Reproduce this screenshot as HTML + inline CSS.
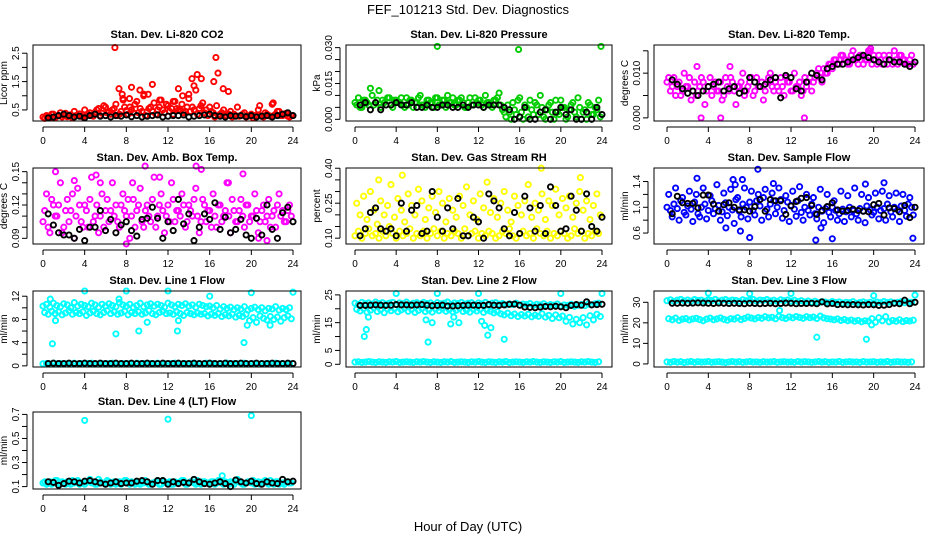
<!DOCTYPE html>
<html><head><meta charset="utf-8"><style>
html,body{margin:0;padding:0;background:#fff;}
svg{display:block;font-family:"Liberation Sans",Arial,sans-serif;}
</style></head><body>
<svg id="chart" width="936" height="540" viewBox="0 0 936 540" xmlns="http://www.w3.org/2000/svg">
<rect width="936" height="540" fill="#fff"/>
<text x="468" y="14" text-anchor="middle" font-size="13">FEF_101213  Std. Dev. Diagnostics</text>
<text x="468" y="531" text-anchor="middle" font-size="13">Hour of Day (UTC)</text>
</svg>
<script>
// ---- data (hours of day, estimated std dev values) ----
const xTickLabels = [0,4,8,12,16,20,24];
const co2Red1 = [0.25,0.3,0.22,0.35,0.28,0.4,0.3,0.26,0.33,0.45,0.3,0.28,0.5,0.35,0.3,0.42,0.55,0.38,0.6,0.45,0.5,0.7,0.35,0.9,0.48,0.6,0.4,0.8,0.55,1.0,0.45,0.6,0.75,0.5,0.85,0.4,0.65,0.55,0.8,0.5,0.7,0.45,0.9,0.6,1.2,0.55,0.75,0.5,0.6,0.4,0.65,0.35,0.5,0.3,0.45,0.35,0.6,0.3,0.4,0.28,0.35,0.3,0.5,0.28,0.4,0.3,0.7,0.35,0.45,0.3,0.38,0.25];
const co2Red2 = [0.2,0.28,0.35,0.22,0.3,0.25,0.38,0.3,0.22,0.3,0.36,0.25,0.32,0.4,0.28,0.5,0.3,0.65,0.4,0.35,0.55,0.3,0.45,0.6,0.35,0.5,0.7,0.4,0.45,0.3,0.55,0.45,0.35,0.6,0.5,0.7,0.45,0.35,0.55,0.5,0.4,0.6,0.45,0.5,0.35,0.65,0.4,0.3,0.45,0.25,0.3,0.4,0.28,0.35,0.25,0.3,0.28,0.35,0.25,0.3,0.22,0.28,0.3,0.25,0.35,0.28,0.3,0.45,0.3,0.35,0.28,0.3];
const co2OutX = [6.9,7.3,7.6,7.7,8.5,9.3,9.7,10.1,10.5,13.0,13.4,14.0,14.3,14.5,14.8,15.2,16.4,16.6,16.8,17.3,17.8,8.3,11.2,12.5,20.8,22.1];
const co2OutY = [2.7,1.25,1.05,0.85,1.3,1.2,1.05,1.05,1.4,1.25,1.0,1.05,1.6,1.35,1.75,1.6,1.5,2.35,1.8,1.25,1.15,0.9,0.85,0.8,0.65,0.75];
const co2Black = [0.22,0.25,0.3,0.35,0.3,0.25,0.28,0.22,0.3,0.35,0.28,0.3,0.25,0.3,0.28,0.32,0.26,0.3,0.25,0.28,0.3,0.32,0.25,0.28,0.3,0.3,0.32,0.25,0.28,0.3,0.32,0.35,0.3,0.28,0.25,0.3,0.28,0.3,0.26,0.3,0.25,0.28,0.3,0.25,0.3,0.35,0.4,0.3];

const presGreen1 = [.007,.009,.005,.008,.006,.010,.007,.012,.008,.006,.009,.005,.008,.007,.006,.009,.008,.005,.007,.010,.006,.008,.007,.005,.009,.006,.008,.010,.007,.006,.008,.009,.005,.007,.006,.009,.008,.006,.010,.007,.005,.008,.011,.004,.001,.003,.007,.002,.009,.000,.005,.008,.002,.006,.010,.001,.004,.007,.000,.003,.008,.005,.001,.006,.003,.009,.000,.004,.007,.002,.005,.008];
const presGreen2 = [.006,.005,.008,.007,.013,.006,.008,.005,.007,.009,.006,.008,.007,.009,.005,.006,.008,.007,.009,.006,.005,.008,.007,.009,.006,.008,.005,.007,.009,.006,.008,.007,.005,.009,.006,.007,.008,.005,.007,.006,.008,.009,.006,.003,.006,.000,.004,.008,.003,.006,.001,.004,.007,.002,.005,.000,.006,.003,.008,.002,.005,.000,.004,.007,.001,.005,.003,.000,.006,.002,.004,.001];
const presOutX = [8,15.9,23.9];
const presOutY = [.0305,.0292,.0305];
const presBlack = [.006,.007,.004,.007,.004,.006,.006,.007,.006,.006,.007,.005,.005,.006,.005,.005,.006,.006,.005,.005,.006,.005,.006,.006,.005,.006,.006,.006,.005,.004,.000,.001,.005,.000,.000,.003,.004,.000,.003,.005,.002,.004,.000,.000,.003,.000,.005,.002];

const tempMag1 = [.008,.006,.009,.007,.005,.010,.007,.004,.008,.006,.009,.003,.007,.005,.008,.006,.004,.009,.006,.008,.003,.007,.010,.006,.008,.005,.009,.007,.004,.008,.010,.006,.007,.009,.005,.008,.006,.010,.007,.005,.009,.008,.006,.009,.011,.008,.010,.012,.011,.013,.012,.014,.013,.012,.015,.013,.014,.012,.013,.015,.014,.012,.013,.014,.012,.013,.015,.012,.014,.013,.012,.014];
const tempMag2 = [.009,.007,.005,.008,.006,.007,.009,.006,.005,.007,.008,.006,.009,.007,.006,.008,.005,.007,.009,.006,.007,.008,.005,.007,.009,.006,.007,.008,.006,.009,.007,.008,.006,.007,.009,.008,.006,.007,.008,.006,.007,.009,.008,.010,.009,.011,.010,.012,.013,.012,.014,.013,.012,.014,.013,.012,.014,.013,.015,.012,.013,.014,.012,.013,.014,.012,.013,.014,.013,.012,.013,.012];
const tempOutX = [3.3,5.2,13.3,2.9,6.1,19.7];
const tempOutY = [0,0,0,.0115,.0115,.0155];
const tempBlack = [.0085,.0075,.0065,.0055,.0060,.0050,.0060,.0070,.0075,.0080,.0060,.0065,.0070,.0055,.0060,.0090,.0080,.0070,.0075,.0085,.0090,.0045,.0095,.0090,.0065,.0060,.0080,.0100,.0095,.0085,.0110,.0115,.0120,.0120,.0125,.0130,.0135,.0140,.0135,.0130,.0125,.0120,.0130,.0125,.0125,.0120,.0115,.0125];

const ambMag1 = [.105,.13,.095,.12,.11,.14,.10,.125,.115,.09,.135,.105,.12,.10,.145,.11,.095,.13,.115,.105,.14,.12,.10,.13,.11,.09,.125,.115,.135,.10,.12,.105,.145,.11,.13,.095,.12,.14,.105,.115,.13,.10,.12,.11,.135,.095,.125,.105,.115,.13,.10,.12,.11,.14,.095,.115,.105,.125,.10,.12,.11,.13,.095,.115,.105,.125,.11,.10,.13,.115,.105,.12];
const ambMag2 = [.115,.10,.125,.11,.12,.095,.115,.105,.13,.11,.12,.10,.115,.125,.105,.12,.11,.10,.125,.115,.11,.105,.12,.115,.125,.11,.10,.12,.105,.115,.11,.125,.10,.12,.115,.11,.105,.125,.115,.11,.12,.105,.115,.125,.11,.105,.12,.115,.10,.11,.12,.105,.115,.11,.125,.105,.115,.11,.12,.105,.11,.115,.105,.12,.11,.10,.115,.12,.11,.105,.115,.11];
const ambOutX = [1.2,3.0,5.1,5.5,8.6,9.8,11.2,14.7,15.2,19.2,20.7,8.0,17.8,21.5];
const ambOutY = [.15,.142,.147,.14,.14,.155,.145,.155,.152,.148,.09,.085,.14,.088];
const ambBlack = [.112,.102,.095,.093,.093,.09,.098,.088,.1,.1,.115,.097,.107,.095,.102,.105,.097,.092,.107,.108,.118,.108,.09,.105,.097,.125,.103,.112,.088,.1,.112,.107,.122,.098,.109,.095,.098,.107,.093,.09,.108,.093,.12,.098,.09,.113,.118,.105];

const rhYel1 = [.11,.13,.10,.12,.14,.11,.12,.10,.13,.11,.15,.12,.10,.13,.11,.12,.14,.10,.12,.11,.13,.10,.12,.14,.11,.13,.10,.12,.11,.13,.12,.10,.14,.11,.12,.13,.10,.12,.11,.13,.12,.10,.11,.13,.12,.14,.11,.10,.12,.13,.11,.12,.10,.14,.12,.11,.13,.10,.12,.11,.13,.12,.10,.11,.14,.12,.13,.10,.12,.11,.13,.12];
const rhYel2 = [.25,.2,.28,.18,.3,.22,.16,.26,.2,.24,.33,.19,.27,.22,.17,.29,.24,.2,.31,.26,.18,.23,.28,.21,.3,.25,.17,.27,.22,.19,.28,.24,.32,.2,.26,.18,.29,.23,.34,.21,.27,.19,.25,.3,.22,.17,.28,.24,.2,.26,.33,.19,.25,.22,.29,.18,.26,.24,.31,.2,.27,.23,.28,.19,.25,.3,.22,.26,.18,.24,.29,.2];
const rhOutX = [2.3,4.6,18.1,21.9];
const rhOutY = [.35,.37,.40,.36];
const rhBlack = [.11,.14,.21,.23,.14,.13,.14,.11,.25,.13,.22,.24,.12,.13,.3,.19,.13,.23,.14,.27,.11,.11,.19,.17,.1,.29,.26,.23,.14,.11,.21,.12,.28,.23,.13,.24,.12,.32,.24,.13,.14,.28,.22,.13,.29,.15,.13,.19];

const flowBlue1 = [1.0,.95,1.05,.98,1.1,.92,1.02,.97,1.08,.9,1.0,1.05,.95,1.1,.98,1.03,.93,1.07,1.0,.96,1.12,.94,1.05,1.0,1.08,.95,1.1,1.02,1.15,.97,1.05,1.1,1.0,1.12,.95,1.08,1.03,.97,1.1,.92,1.0,.95,1.05,.9,1.0,.94,.98,.92,1.0,.95,.9,.97,.93,1.0,.95,.9,.98,.94,1.02,.96,.92,1.0,.95,.98,1.05,.93,1.0,.96,1.02,.95,1.05,1.0];
const flowBlue2 = [1.2,.85,1.3,.8,1.15,.88,1.25,.78,1.2,.85,1.3,.82,1.18,.9,1.35,.8,1.22,.87,1.28,.75,1.15,.85,1.3,.82,1.25,.88,1.2,.8,1.28,.85,1.22,.9,1.3,.83,1.18,.78,1.25,.86,1.32,.8,1.2,.88,1.15,.82,1.28,.76,1.2,.85,1.1,.8,1.25,.78,1.18,.85,1.3,.8,1.2,.76,1.15,.88,1.22,.82,1.25,.8,1.18,.85,1.22,.78,1.2,.86,1.15,.88];
const flowOutX = [2.9,6.4,6.6,7.3,8,8.8,10.3,14.4,14.9,16,19.2,21,23.8,5.7,7.1];
const flowOutY = [1.45,1.43,1.35,1.43,.53,1.59,1.37,.49,.68,.51,1.36,1.38,.52,.68,.63];
const flowBlack = [.9,1.17,1.07,1.06,1.06,.99,1.19,1.19,1.05,.94,1.04,1.07,1.0,.96,.96,.94,1.01,1.12,.94,1.12,1.1,1.1,.89,1.02,1.09,1.14,1.15,1.03,.89,.95,1.01,1.07,.96,.94,.95,.97,.95,.94,.93,1.04,1.06,.88,.99,.98,.93,1.03,.84,1.0];

const line1Upper = [10.3,10.6,10.1,10.8,10.4,10.2,10.7,10.5,10.0,10.9,10.3,10.6,10.4,10.2,10.8,10.5,10.1,10.6,10.3,10.7,10.4,10.2,10.9,10.5,10.3,10.6,10.1,10.4,10.8,10.2,10.5,10.7,10.3,10.6,10.4,10.1,10.8,10.5,10.2,10.6,10.4,10.7,10.3,10.5,10.1,10.6,10.4,10.2,10.3,10.0,10.4,9.8,10.2,9.9,10.1,9.7,10.0,9.8,10.2,9.6,9.9,10.1,9.7,10.0,9.5,9.9,9.8,10.2,9.6,9.9,9.7,10.0];
const line1Mid = [9.2,8.9,9.4,9.0,9.3,8.8,9.1,9.5,8.9,9.2,9.0,9.3,8.7,9.1,9.4,9.0,8.8,9.2,9.5,9.0,9.3,8.9,9.1,9.4,8.8,9.2,9.0,9.3,8.9,9.1,9.5,9.0,8.8,9.2,9.4,9.0,9.1,8.9,9.3,9.0,8.7,9.2,9.0,8.8,9.1,8.9,9.0,8.6,8.9,8.7,9.0,8.5,8.8,8.6,8.9,8.4,8.7,8.5,8.9,7.8,8.3,7.5,8.6,8.2,7.9,8.5,8.0,8.4,7.7,8.3,8.6,8.1];
const line1Zero = [0.35,0.4,0.3,0.45,0.35,0.4,0.3,0.4,0.35,0.45,0.3,0.4,0.35,0.4,0.45,0.3,0.35,0.4,0.3,0.4,0.45,0.35,0.3,0.4,0.35,0.4,0.3,0.45,0.35,0.4,0.3,0.4,0.35,0.45,0.3,0.4,0.35,0.4,0.45,0.3,0.35,0.4,0.3,0.4,0.35,0.4,0.3,0.45,0.35,0.4,0.3,0.4,0.35,0.45,0.3,0.4,0.35,0.4,0.45,0.3,0.35,0.4,0.3,0.4,0.35,0.4,0.3,0.45,0.35,0.4,0.3,0.4];
const line1OutX = [4,8,12,16,20,24,0.7,0.9,1.2,7.0,7.3,9.2,10.0,12.9,13.0,19.3,19.6,21.8];
const line1OutY = [12.9,12.9,12.9,12.0,12.6,12.7,11.5,3.8,7.8,5.5,11.5,6.0,7.5,6.0,7.8,4.0,7.0,7.0];
const line1Black = [0.4,0.45,0.4,0.4,0.45,0.4,0.4,0.45,0.4,0.4,0.45,0.4,0.4,0.45,0.4,0.4,0.45,0.4,0.4,0.45,0.4,0.4,0.45,0.4,0.4,0.45,0.4,0.4,0.45,0.4,0.4,0.45,0.4,0.4,0.45,0.4,0.4,0.45,0.4,0.4,0.45,0.4,0.4,0.45,0.4,0.4,0.45,0.4];

const line2Upper = [22,21.5,22.3,21.8,22.1,21.6,22.4,21.9,22.2,21.7,22,22.3,21.5,22.1,21.8,22.4,21.6,22,22.2,21.7,22.3,21.9,22.1,21.5,22.2,21.8,22,22.4,21.6,22.1,21.9,22.3,21.7,22,22.2,21.5,22.1,21.8,22.3,21.6,22,22.2,21.7,21.9,21.4,21.8,21.5,22,21.3,21.7,21.5,21.9,21.2,21.6,21.4,21.8,21.1,21.5,21.3,21.7,21,21.4,21.2,21.6,20.9,21.3,21.5,21.1,21.7,21.4,21.8,22];
const line2Mid = [19.8,19.2,20.1,18.8,19.5,20.3,19,19.7,18.6,19.9,19.3,20,18.9,19.6,20.2,19.1,19.8,18.7,19.4,20.1,19,19.6,18.8,19.9,19.3,20,19.1,19.7,18.9,19.5,20.2,19,19.4,18.8,19.8,19.2,19.9,18.7,19.5,19.1,18.5,18.9,18.2,17.8,18.4,17.5,18.1,17.2,17.9,17.4,18,17.1,17.7,17.3,18.2,17,17.6,16.5,17.8,16.8,17.4,15.5,16.9,14.5,16.2,15,16.8,14.2,17.5,16,18,17.2];
const line2Zero = [0.8,0.9,0.7,0.8,1.0,0.8,0.7,0.9,0.8,0.7,0.9,0.8,1.0,0.7,0.8,0.9,0.8,0.7,0.9,0.8,1.0,0.8,0.7,0.9,0.8,0.7,0.9,0.8,1.0,0.7,0.8,0.9,0.8,0.7,0.9,0.8,1.0,0.8,0.7,0.9,0.8,0.7,0.9,0.8,1.0,0.7,0.8,0.9,0.8,0.7,0.9,0.8,1.0,0.8,0.7,0.9,0.8,0.7,0.9,0.8,1.0,0.7,0.8,0.9,0.8,0.7,0.9,0.8,1.0,0.8,0.7,0.9];
const line2OutX = [4,8,12,20,24,0.9,1.1,1.3,6.9,7.1,7.5,9.3,9.6,10.1,12.3,12.6,12.9,13.2,14.5];
const line2OutY = [25.5,25.5,25.5,25.5,25.5,10,12.5,17,16,8,15,14.5,17,15,15.5,14,10.5,13.2,9];
const line2Black = [21.2,21.2,21.3,21.4,21.3,21.2,21.3,21.5,21.4,21.4,21.3,21.4,21.5,21.3,21.1,21.2,21.3,21.0,21.0,21.1,21.2,21.3,21.3,21.2,21.2,21.5,21.3,21.2,21.4,21.6,21.7,21.3,20.6,20.5,20.4,20.6,20.8,20.7,20.9,20.7,20.4,21.2,21.5,21.3,22.5,21.4,21.5,21.6];

const line3Upper = [30.8,31.2,30.5,31.0,31.4,30.7,31.1,30.6,31.3,30.9,31.0,30.5,31.2,30.8,31.4,30.6,31.0,31.3,30.7,31.1,30.9,30.5,31.2,30.8,31.0,31.4,30.6,31.1,30.9,31.3,30.7,31.0,30.5,31.2,30.8,31.1,30.6,31.0,30.4,30.8,30.2,30.6,30.0,30.5,29.8,30.3,30.1,29.7,30.4,29.9,30.2,29.6,30.0,29.8,30.3,29.5,29.9,30.2,29.7,30.0,29.6,30.1,29.8,30.4,29.9,30.2,29.7,30.0,30.3,29.8,30.1,30.0];
const line3Mid = [22.0,21.5,22.3,21.2,21.8,22.1,21.4,21.9,22.2,21.6,21.0,21.8,22.3,21.5,21.9,22.4,21.7,21.3,22.0,21.8,22.5,21.6,22.1,22.8,22.3,21.9,22.6,22.2,23.0,22.4,22.7,22.0,23.2,22.5,22.1,22.9,22.4,23.1,22.6,22.2,23.0,22.5,22.8,22.1,23.3,22.4,22.0,21.8,21.5,21.9,21.2,21.6,21.0,21.4,20.8,21.2,20.5,21.0,20.8,22.0,20.3,22.5,21.0,23.0,20.5,21.2,20.8,21.5,20.6,21.1,20.9,21.3];
const line3Zero = [1.0,0.8,1.2,0.9,1.1,0.7,1.0,1.2,0.8,1.1,0.9,1.0,1.2,0.8,1.0,1.1,0.9,0.7,1.0,1.2,0.9,1.1,0.8,1.0,1.2,0.9,1.0,0.8,1.1,0.9,1.0,1.2,0.8,1.0,1.1,0.9,1.0,0.8,1.2,0.9,1.1,1.0,0.8,1.0,1.2,0.9,1.1,0.8,1.0,0.9,1.2,0.8,1.0,1.1,0.9,1.0,0.8,1.2,0.9,1.0,1.1,0.8,1.0,0.9,1.2,0.8,1.0,1.1,0.9,1.0,0.8,1.0];
const line3OutX = [4,8,12,20,24,14.5,19.3,19.8,10.9,4.1];
const line3OutY = [34.5,34.2,34.3,33.2,33.5,13,12,19,26,31];
const line3Black = [29.5,29.5,29.6,29.5,29.6,29.7,29.6,29.5,29.4,29.6,29.5,29.4,29.5,29.4,29.3,29.5,29.4,29.3,29.4,29.5,29.3,29.4,29.6,29.5,29.3,29.4,29.4,29.5,29.3,30.2,29.2,29.4,28.9,29.0,28.8,28.9,28.8,28.7,28.9,28.8,28.5,28.6,28.9,29.5,29.3,31.0,29.3,30.0];

const line4Cyan1 = [.13,.12,.14,.13,.15,.12,.13,.14,.12,.13,.15,.13,.12,.14,.13,.12,.16,.13,.12,.14,.13,.12,.14,.13,.15,.12,.13,.14,.12,.13,.14,.12,.13,.15,.12,.14,.13,.12,.14,.13,.15,.12,.13,.14,.12,.13,.14,.13,.12,.14,.13,.15,.12,.13,.14,.12,.16,.13,.12,.14,.13,.12,.14,.13,.15,.12,.13,.14,.12,.13,.14,.13];
const line4Cyan2 = [.14,.13,.12,.15,.13,.14,.12,.13,.15,.14,.12,.13,.14,.16,.13,.12,.14,.13,.15,.12,.14,.13,.12,.15,.13,.14,.12,.13,.14,.15,.12,.13,.14,.12,.15,.13,.14,.12,.13,.14,.15,.12,.14,.13,.15,.12,.14,.13,.14,.12,.15,.13,.14,.12,.13,.15,.14,.12,.13,.14,.15,.13,.12,.14,.13,.15,.12,.14,.13,.12,.14,.13];
const line4OutX = [4,12,20,17.2];
const line4OutY = [.65,.66,.69,.19];
const line4Black = [.14,.135,.11,.125,.145,.14,.13,.145,.15,.14,.13,.12,.13,.14,.125,.13,.13,.145,.15,.14,.12,.15,.15,.12,.14,.125,.135,.13,.16,.14,.125,.12,.13,.14,.125,.10,.155,.14,.13,.145,.125,.12,.14,.13,.125,.16,.14,.145];

// ---- layout ----
const NS = "http://www.w3.org/2000/svg";
const svg = document.getElementById('chart');
const cols = [{l:33,r:301,x0:43,x24:293},{l:346,r:612,x0:355,x24:602},{l:654,r:924,x0:667,x24:915}];
const rows = [{t:45,b:121},{t:168,b:244},{t:291,b:367},{t:412,b:489}];
const t72 = []; for (let i=0;i<72;i++) t72.push(i/3);
const t72b = []; for (let i=0;i<72;i++) t72b.push(i/3+1/6);
const t48 = []; for (let i=0;i<48;i++) t48.push(0.5+i*0.5);

function el(tag, attrs, parent){const e=document.createElementNS(NS,tag);for(const k in attrs)e.setAttribute(k,attrs[k]);(parent||svg).appendChild(e);return e;}

function panel(cfg){
  const c=cols[cfg.col], r=rows[cfg.row];
  const g=el('g',{});
  
  
  const xs=h=>c.x0+(h/24)*(c.x24-c.x0);
  const ys=v=>r.b-(v-cfg.ylim[0])/(cfg.ylim[1]-cfg.ylim[0])*(r.b-r.t);
  const t=el('text',{x:(c.l+c.r)/2,y:r.t-7,'text-anchor':'middle','font-size':'11','font-weight':'bold'},g);
  t.textContent=cfg.title;
  
  
  const xa=el('g',{stroke:'#000','stroke-width':'1'},g);
  
  
  el('line',{x1:xs(0),x2:xs(24),y1:r.b+6,y2:r.b+6},xa);
  xTickLabels.forEach(v=>{
    el('line',{x1:xs(v),x2:xs(v),y1:r.b+6,y2:r.b+11},xa);
    const tl=el('text',{x:xs(v),y:r.b+23,'text-anchor':'middle','font-size':'10',stroke:'none',fill:'#000'},xa);
    tl.textContent=v;
  });
  const ya=el('g',{stroke:'#000','stroke-width':'1'},g);
  
  
  const yt=cfg.yticks;
  el('line',{x1:c.l-6,x2:c.l-6,y1:ys(yt[0]),y2:ys(yt[yt.length-1])},ya);
  yt.forEach(v=>el('line',{x1:c.l-6,x2:c.l-11,y1:ys(v),y2:ys(v)},ya));
  cfg.ylabels.forEach((lab,i)=>{
    const y=ys(cfg.ylabelVals[i]);
    const tl=el('text',{x:0,y:0,transform:`translate(${c.l-14},${y}) rotate(-90)`,'text-anchor':'middle','font-size':'10',stroke:'none',fill:'#000'},ya);
    tl.textContent=lab;
  });
  const yl=el('text',{x:0,y:0,transform:`translate(${c.l-26},${(r.t+r.b)/2}) rotate(-90)`,'text-anchor':'middle','font-size':'10'},g);
  yl.textContent=cfg.ylab;
  
  
  const pts=el('g',{fill:'none','stroke-width':'1.9'},g);
  
  
  cfg.series.forEach(s=>{
    s.y.forEach((v,i)=>{
      const cx=xs(s.x[i]), cy=ys(v);
      const p=el('circle',{cx:cx.toFixed(1),cy:cy.toFixed(1),r:'2.6',stroke:s.color},pts);
      
      
    });
  });
  const box=el('rect',{x:c.l,y:r.t,width:c.r-c.l,height:r.b-r.t,fill:'none',stroke:'#000','stroke-width':'1'},g);
  
  
}

const K='#000';
panel({name:'co2-panel',col:0,row:0,title:'Stan. Dev. Li-820 CO2',ylab:'Licor ppm',ylim:[0.11,2.79],yticks:[0.5,1,1.5,2,2.5],ylabels:['0.5','1.5','2.5'],ylabelVals:[0.5,1.5,2.5],
 series:[{x:t72,y:co2Red1,color:'#f00',label:'co2-red'},{x:t72b,y:co2Red2,color:'#f00',label:'co2-red'},{x:co2OutX,y:co2OutY,color:'#f00',label:'co2-red'},{x:t48,y:co2Black,color:K,label:'co2-black'}]});
panel({name:'pressure-panel',col:1,row:0,title:'Stan. Dev. Li-820 Pressure',ylab:'kPa',ylim:[-0.0007,0.0311],yticks:[0,.005,.01,.015,.02,.025,.03],ylabels:['0.000','0.015','0.030'],ylabelVals:[0,.015,.03],
 series:[{x:t72,y:presGreen1,color:'#00cd00',label:'pressure-green'},{x:t72b,y:presGreen2,color:'#00cd00',label:'pressure-green'},{x:presOutX,y:presOutY,color:'#00cd00',label:'pressure-green'},{x:t48,y:presBlack,color:K,label:'pressure-black'}]});
panel({name:'li820-temp-panel',col:2,row:0,title:'Stan. Dev. Li-820 Temp.',ylab:'degrees C',ylim:[-0.0007,0.0163],yticks:[0,.005,.01,.015],ylabels:['0.000','0.010'],ylabelVals:[0,.01],
 series:[{x:t72,y:tempMag1,color:'#f0f',label:'temp-magenta'},{x:t72b,y:tempMag2,color:'#f0f',label:'temp-magenta'},{x:tempOutX,y:tempOutY,color:'#f0f',label:'temp-magenta'},{x:t48,y:tempBlack,color:K,label:'temp-black'}]});
panel({name:'amb-box-temp-panel',col:0,row:1,title:'Stan. Dev. Amb. Box Temp.',ylab:'degrees C',ylim:[0.0849,0.1533],yticks:[.09,.1,.11,.12,.13,.14,.15],ylabels:['0.09','0.12','0.15'],ylabelVals:[.09,.12,.15],
 series:[{x:t72,y:ambMag1,color:'#f0f',label:'amb-magenta'},{x:t72b,y:ambMag2,color:'#f0f',label:'amb-magenta'},{x:ambOutX,y:ambOutY,color:'#f0f',label:'amb-magenta'},{x:t48,y:ambBlack,color:K,label:'amb-black'}]});
panel({name:'gas-rh-panel',col:1,row:1,title:'Stan. Dev. Gas Stream RH',ylab:'percent',ylim:[0.075,0.401],yticks:[.1,.15,.2,.25,.3,.35,.4],ylabels:['0.10','0.25','0.40'],ylabelVals:[.1,.25,.4],
 series:[{x:t72,y:rhYel1,color:'#ff0',label:'rh-yellow'},{x:t72b,y:rhYel2,color:'#ff0',label:'rh-yellow'},{x:rhOutX,y:rhOutY,color:'#ff0',label:'rh-yellow'},{x:t48,y:rhBlack,color:K,label:'rh-black'}]});
panel({name:'sample-flow-panel',col:2,row:1,title:'Stan. Dev. Sample Flow',ylab:'ml/min',ylim:[0.43,1.61],yticks:[.6,.8,1,1.2,1.4],ylabels:['0.6','1.0','1.4'],ylabelVals:[.6,1,1.4],
 series:[{x:t72,y:flowBlue1,color:'#00f',label:'flow-blue'},{x:t72b,y:flowBlue2,color:'#00f',label:'flow-blue'},{x:flowOutX,y:flowOutY,color:'#00f',label:'flow-blue'},{x:t48,y:flowBlack,color:K,label:'flow-black'}]});
panel({name:'line1-flow-panel',col:0,row:2,title:'Stan. Dev. Line 1 Flow',ylab:'ml/min',ylim:[-0.2,12.9],yticks:[0,2,4,6,8,10,12],ylabels:['0','4','8','12'],ylabelVals:[0,4,8,12],
 series:[{x:t72,y:line1Upper,color:'#0ff',label:'line1-cyan'},{x:t72b,y:line1Mid,color:'#0ff',label:'line1-cyan'},{x:t72,y:line1Zero,color:'#0ff',label:'line1-cyan'},{x:line1OutX,y:line1OutY,color:'#0ff',label:'line1-cyan'},{x:t48,y:line1Black,color:K,label:'line1-black'}]});
panel({name:'line2-flow-panel',col:1,row:2,title:'Stan. Dev. Line 2 Flow',ylab:'ml/min',ylim:[-0.97,26.4],yticks:[0,5,10,15,20,25],ylabels:['0','5','15','25'],ylabelVals:[0,5,15,25],
 series:[{x:t72,y:line2Upper,color:'#0ff',label:'line2-cyan'},{x:t72b,y:line2Mid,color:'#0ff',label:'line2-cyan'},{x:t72,y:line2Zero,color:'#0ff',label:'line2-cyan'},{x:line2OutX,y:line2OutY,color:'#0ff',label:'line2-cyan'},{x:t48,y:line2Black,color:K,label:'line2-black'}]});
panel({name:'line3-flow-panel',col:2,row:2,title:'Stan. Dev. Line 3 Flow',ylab:'ml/min',ylim:[-1.5,35.5],yticks:[0,10,20,30],ylabels:['0','10','20','30'],ylabelVals:[0,10,20,30],
 series:[{x:t72,y:line3Upper,color:'#0ff',label:'line3-cyan'},{x:t72b,y:line3Mid,color:'#0ff',label:'line3-cyan'},{x:t72,y:line3Zero,color:'#0ff',label:'line3-cyan'},{x:line3OutX,y:line3OutY,color:'#0ff',label:'line3-cyan'},{x:t48,y:line3Black,color:K,label:'line3-black'}]});
panel({name:'line4-flow-panel',col:0,row:3,title:'Stan. Dev. Line 4 (LT) Flow',ylab:'ml/min',ylim:[0.08,0.72],yticks:[.1,.2,.3,.4,.5,.6,.7],ylabels:['0.1','0.3','0.5','0.7'],ylabelVals:[.1,.3,.5,.7],
 series:[{x:t72,y:line4Cyan1,color:'#0ff',label:'line4-cyan'},{x:t72b,y:line4Cyan2,color:'#0ff',label:'line4-cyan'},{x:line4OutX,y:line4OutY,color:'#0ff',label:'line4-cyan'},{x:t48,y:line4Black,color:K,label:'line4-black'}]});
</script>
</body></html>
